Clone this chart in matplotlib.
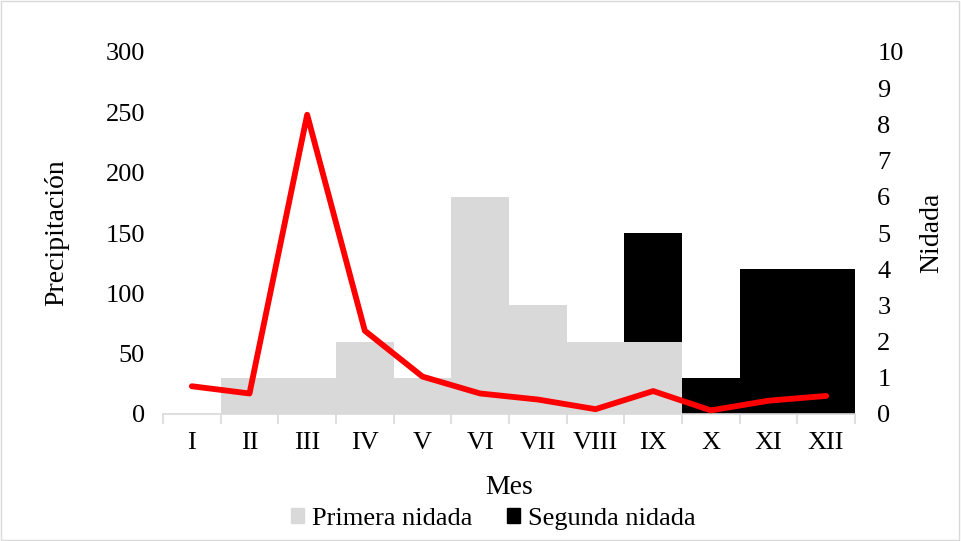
import numpy as np
import matplotlib.pyplot as plt
from matplotlib.patches import Rectangle

plt.rcParams['font.family'] = ['Liberation Serif', 'DejaVu Serif']

meses = ['I', 'II', 'III', 'IV', 'V', 'VI', 'VII', 'VIII', 'IX', 'X', 'XI', 'XII']
precipitacion = [23, 17, 248, 69, 31, 17, 12, 4, 19, 3, 11, 15]
primera_nidada = [0, 1, 1, 2, 1, 6, 3, 2, 2, 0, 0, 0]
segunda_nidada = [0, 0, 0, 0, 0, 0, 0, 0, 3, 1, 4, 4]

gris = '#d9d9d9'
x = np.arange(len(meses))

fig = plt.figure(figsize=(9.61, 5.41), dpi=100)
ax = fig.add_axes([163 / 961, 1 - 414 / 541, (855 - 163) / 961, (414 - 52) / 541])
ax2 = ax.twinx()

# bars for nesting (right axis), no gaps between months
ax2.bar(x, primera_nidada, width=1.0, color=gris, edgecolor='none', zorder=2)
ax2.bar(x, segunda_nidada, width=1.0, bottom=primera_nidada, color='black',
        edgecolor='none', zorder=2)
ax2.set_ylim(0, 10)
ax2.set_yticks(range(0, 11))

# rainfall line (left axis) drawn over the bars
ax.plot(x, precipitacion, color='#ff0000', linewidth=4.2, solid_capstyle='round', zorder=3)
ax.set_ylim(0, 300)
ax.set_yticks(range(0, 301, 50))
ax.set_xlim(-0.5, len(meses) - 0.5)
ax.set_zorder(ax2.get_zorder() + 1)
ax.patch.set_visible(False)

for a in (ax, ax2):
    for s in a.spines.values():
        s.set_visible(False)
    a.tick_params(axis='y', length=0, labelsize=19)
ax.tick_params(axis='y', pad=13)
ax2.tick_params(axis='y', pad=16)
ax.spines['bottom'].set_visible(True)
ax.spines['bottom'].set_color(gris)
ax.spines['bottom'].set_linewidth(1.2)

ax.set_xticks(x)
ax.set_xticklabels(meses, fontsize=19)
ax.set_xticks(np.arange(-0.5, len(meses), 1.0), minor=True)
ax.tick_params(axis='x', which='major', length=0, pad=13)
ax.tick_params(axis='x', which='minor', length=7, color=gris, width=1.2)

ax.set_ylabel('Precipitación', fontsize=20, labelpad=26)
ax2.set_ylabel('Nidada', fontsize=20, labelpad=11)
ax.set_xlabel('Mes', fontsize=20, labelpad=15)

handles = [Rectangle((0, 0), 1, 1, color=gris), Rectangle((0, 0), 1, 1, color='black')]
fig.legend(handles, ['Primera nidada', 'Segunda nidada'], loc='center',
           bbox_to_anchor=(493.5 / 961, 1 - 519 / 541), ncol=2, frameon=False, fontsize=19,
           handlelength=0.5, handleheight=0.5, handletextpad=0.3, columnspacing=1.3)

fig.patches.append(Rectangle((0.001, 0.002), 0.997, 0.996, transform=fig.transFigure,
                             fill=False, edgecolor=gris, linewidth=1))

fig.savefig('out.png', dpi=100)
